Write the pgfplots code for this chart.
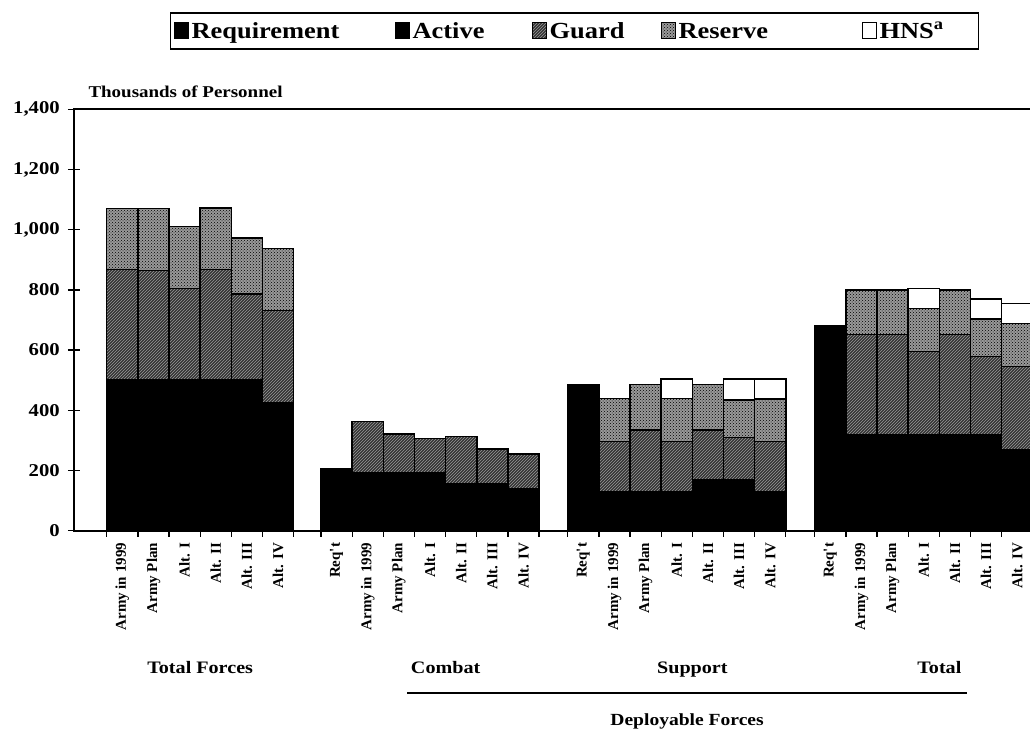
\documentclass[border=0pt]{standalone}
\usepackage{fontspec}
\setmainfont[FakeStretch=1.15]{Liberation Serif}
\newfontfamily\xlabfont{Liberation Serif}
\usepackage{pgfplots}
\pgfplotsset{compat=1.18}
\usepackage{pgfplotstable}
\usetikzlibrary{patterns}

\pgfplotstableread{
x     req act guard res hns
1.55  0   500 367 203 0
2.55  0   500 365 205 0
3.55  0   500 305 205 0
4.55  0   500 367 205 0
5.55  0   500 286 187 0
6.55  0   425 306 206 0
8.43  205 0   0   0   0
9.43  0   191 171 0   0
10.43 0   191 130 0   0
11.43 0   191 116 0   0
12.43 0   155 158 0   0
13.43 0   155 117 0   0
14.43 0   138 116 0   0
16.35 486 0   0   0   0
17.35 0   130 166 144 0
18.35 0   130 204 152 0
19.35 0   130 166 144 64
20.35 0   168 166 152 0
21.35 0   168 142 124 70
22.35 0   130 166 141 67
24.28 682 0   0   0   0
25.28 0   320 332 148 0
26.28 0   320 332 148 0
27.28 0   320 275 144 66
28.28 0   320 332 148 0
29.28 0   320 258 125 67
30.28 0   268 277 144 66
}\data

\begin{document}
\begin{tikzpicture}
\useasboundingbox (-74pt,-203.3pt) rectangle (956pt,530.7pt);
\clip (-74pt,-203.3pt) rectangle (956pt,530.7pt);
\begin{axis}[
  at={(0,0)}, anchor=south west,
  scale only axis, width=990.6pt, height=421.4pt,
  xmin=0, xmax=31.8, ymin=0, ymax=1400,
  ybar stacked, bar width=1,
  clip=false,
  axis line style={line width=1.6pt},
  every tick/.style={black, line width=1.3pt},
  ytick={0,200,...,1400},
  ytick pos=left, xtick pos=bottom,
  ytick align=center, xtick align=outside,
  major tick length=12pt, minor tick length=6pt,
  /pgf/number format/1000 sep={,},
  /pgf/number format/assume math mode=true,
  yticklabel style={font=\fontsize{18}{19}\selectfont\bfseries, inner sep=0pt, xshift=-8pt},
  xtick={1.55,2.55,3.55,4.55,5.55,6.55,
         8.43,9.43,10.43,11.43,12.43,13.43,14.43,
         16.35,17.35,18.35,19.35,20.35,21.35,22.35,
         24.28,25.28,26.28,27.28,28.28,29.28,30.28},
  xticklabels={Army in 1999,Army Plan,Alt. I,Alt. II,Alt. III,Alt. IV,
               Req't,Army in 1999,Army Plan,Alt. I,Alt. II,Alt. III,Alt. IV,
               Req't,Army in 1999,Army Plan,Alt. I,Alt. II,Alt. III,Alt. IV,
               Req't,Army in 1999,Army Plan,Alt. I,Alt. II,Alt. III,Alt. IV},
  major x tick style={draw=none},
  minor xtick={1.05,2.05,3.05,4.05,5.05,6.05,7.05,
               7.93,8.93,9.93,10.93,11.93,12.93,13.93,14.93,
               15.85,16.85,17.85,18.85,19.85,20.85,21.85,22.85,
               23.78,24.78,25.78,26.78,27.78,28.78,29.78,30.78},
  xticklabel style={rotate=90, anchor=east, inner sep=0pt,
                    font=\xlabfont\fontsize{15}{16}\selectfont\bfseries},
  legend columns=5,
  legend style={at={(0.5053,1.1858)}, anchor=center, draw=black, line width=1.6pt,
                font=\fontsize{23}{25}\selectfont\bfseries,
                inner xsep=3pt, inner ysep=9pt,
                nodes={inner sep=0pt},
                /tikz/column sep=0pt,
                /tikz/every odd column/.append style={column sep=3pt}},
  legend image code/.code={\draw[#1, line width=1pt] (0pt,-7pt) rectangle (14pt,9pt);},
]
\addplot[draw=black, line width=1.5pt, fill=black] table[x=x, y=req] {\data};
\addlegendentry{\makebox[203pt][l]{Requirement}}
\addplot[draw=black, line width=1.5pt, fill=black] table[x=x, y=act] {\data};
\addlegendentry{\makebox[119pt][l]{Active}}
\addplot[draw=black, line width=1.5pt, fill=black!80, postaction={pattern=north east lines, pattern color=black!40}] table[x=x, y=guard] {\data};
\addlegendentry{\makebox[111pt][l]{Guard}}
\addplot[draw=black, line width=1.5pt, fill=black!40, postaction={pattern=crosshatch dots, pattern color=black}] table[x=x, y=res] {\data};
\addlegendentry{\makebox[183pt][l]{Reserve}}
\addplot[draw=black, line width=1.5pt, fill=white] table[x=x, y=hns] {\data};
\addlegendentry{\makebox[96pt][l]{HNS\textsuperscript{a}}}

\node[anchor=base west, font=\fontsize{16.5}{18}\selectfont\bfseries, xshift=11pt, yshift=11.3pt]
  at (rel axis cs:0,1) {Thousands of Personnel};
\node[anchor=base, font=\fontsize{17.5}{19}\selectfont\bfseries, yshift=-142.3pt] at (axis cs:4.05,0) {Total Forces};
\node[anchor=base, font=\fontsize{17.5}{19}\selectfont\bfseries, yshift=-142.3pt] at (axis cs:11.93,0) {Combat};
\node[anchor=base, font=\fontsize{17.5}{19}\selectfont\bfseries, yshift=-142.3pt] at (axis cs:19.85,0) {Support};
\node[anchor=base, font=\fontsize{17.5}{19}\selectfont\bfseries, yshift=-142.3pt] at (axis cs:27.78,0) {Total};
\draw[line width=1.6pt] ([yshift=-162.3pt]axis cs:10.69,0) -- ([yshift=-162.3pt]axis cs:28.67,0);
\node[anchor=base, font=\fontsize{17}{19}\selectfont\bfseries, yshift=-194.3pt] at (axis cs:19.68,0) {Deployable Forces};
\end{axis}
\end{tikzpicture}
\end{document}
